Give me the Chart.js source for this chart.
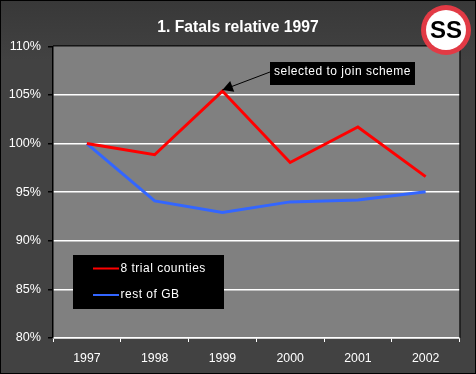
<!DOCTYPE html>
<html>
<head>
<meta charset="utf-8">
<script src="https://cdn.jsdelivr.net/npm/chart.js@4"></script>
<style>
  html, body { margin:0; padding:0; background:#404040; }
  #wrap { position:relative; width:476px; height:374px; }
</style>
</head>
<body>
<div id="wrap"><canvas id="chart" width="476" height="374"></canvas></div>
<script>
// data
const years    = ["1997","1998","1999","2000","2001","2002"];
const trial    = [100, 98.85, 105.4, 98.05, 101.7, 96.6];
const restGB   = [100, 94.1, 92.9, 94.0, 94.2, 95.05];
const titleTxt = "1. Fatals relative 1997";
const noteTxt  = "selected to join scheme";
const noteIdx  = 2;
const badgeTxt = "SS";

const FONT = '"Liberation Sans", Arial, sans-serif';

/* ---------- background, frame, plot area ---------- */
const backdrop = {
  id:"backdrop",
  // title is centred on the whole canvas, not on the padded box
  afterLayout(chart){
    chart.titleBlock.right = chart.width;
  },
  beforeDraw(chart){
    const {ctx, chartArea:a, width:w, height:h} = chart;
    ctx.save();
    const g = ctx.createLinearGradient(0,0,0,60);
    g.addColorStop(0,"#383838");
    g.addColorStop(1,"#424242");
    ctx.fillStyle = g;
    ctx.fillRect(0,0,w,h);
    ctx.fillStyle = "#808080";
    ctx.fillRect(a.left,a.top,a.right-a.left,a.bottom-a.top);
    ctx.strokeStyle = "#000";
    ctx.lineWidth = 2;
    ctx.strokeRect(0,0,w,h);
    ctx.restore();
  },
  afterDatasetsDraw(chart){
    const {ctx, chartArea:a} = chart;
    ctx.save();
    ctx.strokeStyle = "#000";
    ctx.lineWidth = 1;
    ctx.beginPath();
    ctx.moveTo(a.left,a.top-0.5);
    ctx.lineTo(a.right+0.5,a.top-0.5);
    ctx.lineTo(a.right+0.5,a.bottom);
    ctx.stroke();
    ctx.restore();
  }
};

/* ---------- arrow + black note box ---------- */
const note = {
  id:"note",
  afterDatasetsDraw(chart){
    const {ctx, scales} = chart;
    const tipX = scales.x.getPixelForValue(noteIdx);
    const tipY = scales.y.getPixelForValue(trial[noteIdx]) - 1;
    const boxX = 270, boxY = 62, boxW = 145, boxH = 23;
    const fromX = boxX, fromY = boxY + 10;
    const ang = Math.atan2(fromY-tipY, fromX-tipX);
    ctx.save();
    ctx.strokeStyle = "#000";
    ctx.fillStyle = "#000";
    ctx.lineWidth = 1;
    ctx.beginPath();
    ctx.moveTo(fromX,fromY);
    ctx.lineTo(tipX,tipY);
    ctx.stroke();
    ctx.beginPath();
    ctx.moveTo(tipX,tipY);
    ctx.lineTo(tipX+12*Math.cos(ang-0.5), tipY+12*Math.sin(ang-0.5));
    ctx.lineTo(tipX+12*Math.cos(ang+0.5), tipY+12*Math.sin(ang+0.5));
    ctx.closePath();
    ctx.fill();
    ctx.fillRect(boxX,boxY,boxW,boxH);
    ctx.fillStyle = "#fff";
    ctx.font = "12px "+FONT;
    ctx.letterSpacing = "0.5px";
    ctx.textAlign = "left";
    ctx.textBaseline = "middle";
    ctx.fillText(noteTxt, boxX+4, boxY+10);
    ctx.restore();
  }
};

/* ---------- black legend box inside the plot ---------- */
const legendBox = {
  id:"legendBox",
  afterDatasetsDraw(chart){
    const {ctx} = chart;
    ctx.save();
    ctx.fillStyle = "#000";
    ctx.fillRect(73,255,151,54);
    ctx.font = "12px "+FONT;
    ctx.letterSpacing = "0.5px";
    ctx.textAlign = "left";
    ctx.textBaseline = "middle";
    chart.data.datasets.forEach((ds,i)=>{
      const y = 268.5 + i*26.5;
      ctx.strokeStyle = ds.borderColor;
      ctx.lineWidth = 2;
      ctx.beginPath();
      ctx.moveTo(93,y);
      ctx.lineTo(119,y);
      ctx.stroke();
      ctx.fillStyle = "#fff";
      ctx.fillText(ds.label,120.5,y);
    });
    ctx.restore();
  }
};

/* ---------- SS roundel, top right ---------- */
const badge = {
  id:"badge",
  afterDraw(chart){
    const {ctx} = chart;
    const cx = 446, cy = 30;
    ctx.save();
    ctx.beginPath();
    ctx.arc(cx,cy,25,0,Math.PI*2);
    ctx.fillStyle = "#e23a45";
    ctx.fill();
    ctx.beginPath();
    ctx.arc(cx,cy,20,0,Math.PI*2);
    ctx.fillStyle = "#fff";
    ctx.fill();
    ctx.fillStyle = "#000";
    ctx.font = "bold 24px "+FONT;
    ctx.textAlign = "center";
    ctx.textBaseline = "middle";
    ctx.fillText(badgeTxt,cx,cy+1);
    ctx.restore();
  }
};

new Chart(document.getElementById("chart").getContext("2d"),{
  type:"line",
  data:{
    labels:years,
    datasets:[
      {label:"8 trial counties", data:trial,  borderColor:"#ff0000", borderWidth:3, pointRadius:0, tension:0},
      {label:"rest of GB",       data:restGB, borderColor:"#3366ff", borderWidth:3, pointRadius:0, tension:0}
    ]
  },
  options:{
    responsive:false,
    animation:false,
    layout:{ padding:{ top:0, right:16.5, left:0, bottom:0 } },
    plugins:{
      legend:{ display:false },
      tooltip:{ enabled:false },
      title:{
        display:true,
        text:titleTxt,
        color:"#fff",
        font:{ family:FONT, size:15.7, weight:"bold" },
        padding:{ top:18, bottom:9.5 }
      }
    },
    scales:{
      x:{
        offset:true,
        afterFit(s){ s.height = 36; },
        border:{ color:"#fff", width:1.5 },
        grid:{ display:true, drawOnChartArea:false, tickColor:"#fff", tickLength:4, offset:true },
        ticks:{ color:"#fff", font:{ family:FONT, size:12.3 }, padding:9, maxRotation:0 }
      },
      y:{
        min:80, max:110,
        afterFit(s){ s.width = 53; },
        border:{ color:"#000", width:1.5 },
        grid:{
          color:(c)=>c.tick && c.tick.value===110 ? "rgba(0,0,0,0)" : "#fff",
          lineWidth:1.5,
          tickColor:"#000",
          tickLength:5
        },
        ticks:{ color:"#fff", stepSize:5, font:{ family:FONT, size:12.6 }, padding:7,
                callback:(v)=>v+"%" }
      }
    }
  },
  plugins:[backdrop, note, legendBox, badge]
});
</script>
</body>
</html>
